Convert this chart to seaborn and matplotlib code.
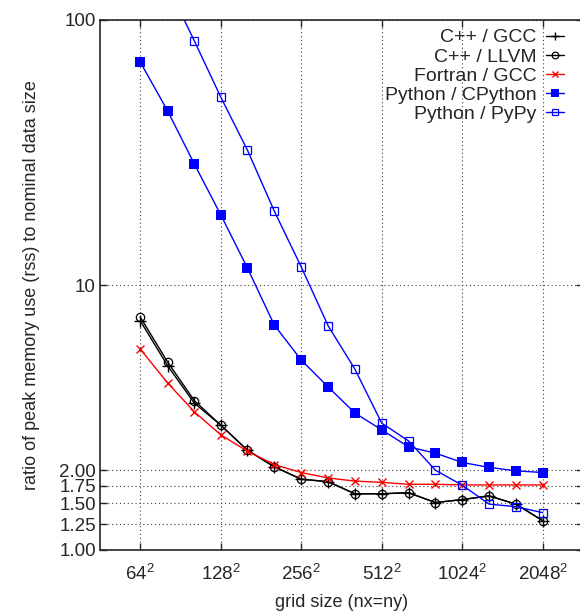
import numpy as np
import matplotlib
matplotlib.use("Agg")
import matplotlib.pyplot as plt
import seaborn as sns
from matplotlib.ticker import FixedLocator, FixedFormatter, NullLocator

# grid sizes (nx = ny), third-of-an-octave steps
grid_n = [64, 81, 102, 128, 161, 203, 256, 323, 406, 512, 645, 813, 1024, 1290, 1625, 2048]

cpp_gcc = [7.33, 4.96, 3.58, 2.96, 2.38, 2.06, 1.85, 1.81, 1.63, 1.63, 1.645, 1.51, 1.55, 1.60, 1.49, 1.29]
cpp_llvm = [7.57, 5.12, 3.66, 2.96, 2.38, 2.06, 1.85, 1.81, 1.63, 1.63, 1.645, 1.51, 1.55, 1.60, 1.49, 1.29]
fortran_gcc = [5.73, 4.27, 3.32, 2.72, 2.36, 2.10, 1.96, 1.87, 1.82, 1.80, 1.77, 1.77, 1.76, 1.76, 1.76, 1.76]
py_cpython = [69.4, 45.4, 28.6, 18.4, 11.6, 7.06, 5.21, 4.12, 3.29, 2.84, 2.45, 2.32, 2.14, 2.05, 1.99, 1.96]
py_pypy = [220, 135, 83.3, 51.2, 32.3, 19.0, 11.7, 7.0, 4.82, 3.01, 2.58, 2.00, 1.756, 1.49, 1.457, 1.383]

x_ticks = [64, 128, 256, 512, 1024, 2048]
x_labels = [r"$\mathregular{64^2}$", r"$\mathregular{128^2}$", r"$\mathregular{256^2}$",
            r"$\mathregular{512^2}$", r"$\mathregular{1024^2}$", r"$\mathregular{2048^2}$"]
y_ticks = [1.0, 1.25, 1.5, 1.75, 2.0, 10, 100]
y_labels = ["1.00", "1.25", "1.50", "1.75", "2.00", "10", "100"]

sns.set_style("ticks")
plt.rcParams["font.family"] = ["Liberation Sans", "DejaVu Sans"]
plt.rcParams["mathtext.fontset"] = "custom"
plt.rcParams["mathtext.rm"] = "Liberation Sans"
plt.rcParams["mathtext.it"] = "Liberation Sans"

fig = plt.figure(figsize=(5.8, 6.12), dpi=100)
ax = fig.add_axes([100 / 580, 62 / 612, 483 / 580, 530 / 612])

series = [
    ("C++ / GCC", cpp_gcc, dict(color="black", marker="+", markersize=8, mew=1.0)),
    ("C++ / LLVM", cpp_llvm, dict(color="black", marker="o", markersize=6, mfc="none", mew=0.9)),
    ("Fortran / GCC", fortran_gcc, dict(color="red", marker="x", markersize=6, mew=1.0)),
    ("Python / CPython", py_cpython, dict(color="blue", marker="s", markersize=6.5, mew=0)),
    ("Python / PyPy", py_pypy, dict(color="blue", marker="s", markersize=6, mfc="none", mew=0.9)),
]
for name, vals, style in series:
    # seaborn paints marker edges white by default, so give them the line colour
    sns.lineplot(x=grid_n, y=vals, ax=ax, label=name, linewidth=1.0,
                 mec=style["color"], **style)

ax.set_xscale("log")
ax.set_yscale("log")
ax.set_xlim(64 / np.sqrt(2), 2048 * np.sqrt(2))
ax.set_ylim(1, 100)

ax.xaxis.set_major_locator(FixedLocator(x_ticks))
ax.xaxis.set_major_formatter(FixedFormatter(x_labels))
ax.xaxis.set_minor_locator(NullLocator())
ax.yaxis.set_major_locator(FixedLocator(y_ticks))
ax.yaxis.set_major_formatter(FixedFormatter(y_labels))
ax.yaxis.set_minor_locator(NullLocator())

ax.tick_params(direction="in", top=True, right=True, length=5, width=1, labelsize=13.5)
ax.tick_params(axis="x", pad=10)
ax.tick_params(axis="y", pad=3)
ax.grid(True, color="0.25", linestyle=(0, (1, 2.5)), linewidth=0.8)
for sp in ax.spines.values():
    sp.set_linewidth(1.2)

ax.set_xlabel("grid size (nx=ny)", fontsize=13, labelpad=7)
ax.set_ylabel("ratio of peak memory use (rss) to nominal data size", fontsize=13, labelpad=14)

ax.legend(loc="upper right", bbox_to_anchor=(0.978, 1.0), frameon=False, markerfirst=False,
          fontsize=14, labelspacing=0.08, handlelength=0.9, handletextpad=0.5,
          borderaxespad=0.05, markerscale=0.8)

fig.savefig("out.png", dpi=100)
